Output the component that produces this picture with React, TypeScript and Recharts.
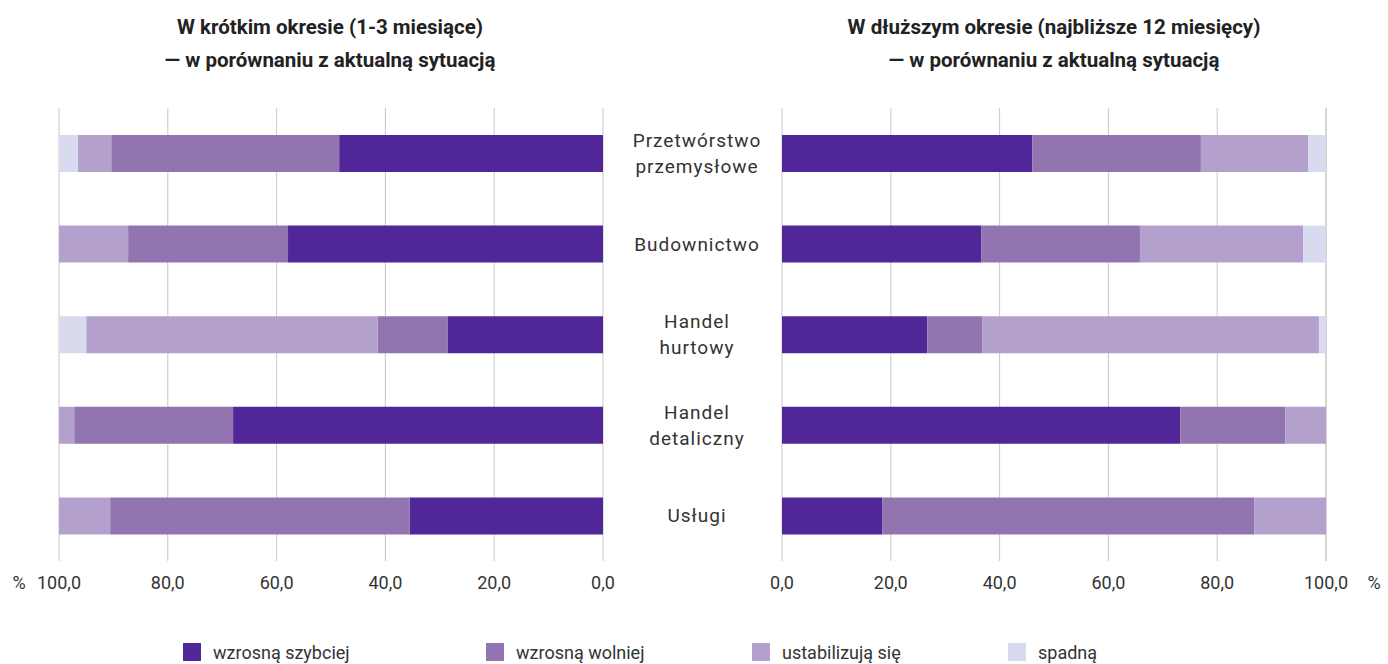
import React from 'react';
import { BarChart, Bar, XAxis, YAxis, CartesianGrid } from 'recharts';

const categories = ['Przetwórstwo\nprzemysłowe', 'Budownictwo', 'Handel\nhurtowy', 'Handel\ndetaliczny', 'Usługi'];

const shortFaster = [48.5, 57.9, 28.5, 68.0, 35.5];
const shortSlower = [41.9, 29.4, 12.9, 29.2, 55.1];
const shortStable = [6.1, 12.7, 53.6, 2.8, 9.4];
const shortFall = [3.5, 0, 5.0, 0, 0];

const longFaster = [46.0, 36.6, 26.7, 73.2, 18.4];
const longSlower = [31.0, 29.2, 10.1, 19.3, 68.4];
const longStable = [19.7, 30.0, 61.9, 7.5, 13.2];
const longFall = [3.3, 4.2, 1.3, 0, 0];

const seriesNames = ['wzrosną szybciej', 'wzrosną wolniej', 'ustabilizują się', 'spadną'];
const seriesColors = ['#512698', '#9275B0', '#B3A0CD', '#D8DAEE'];
const xTicks = [0, 20, 40, 60, 80, 100];

const leftTitle = ['W krótkim okresie (1-3 miesiące)', '— w porównaniu z aktualną sytuacją'];
const rightTitle = ['W dłuższym okresie (najbliższe 12 miesięcy)', '— w porównaniu z aktualną sytuacją'];

const shortData = categories.map((c, i) => ({ name: c, s0: shortFaster[i], s1: shortSlower[i], s2: shortStable[i], s3: shortFall[i] }));
const longData = categories.map((c, i) => ({ name: c, s0: longFaster[i], s1: longSlower[i], s2: longStable[i], s3: longFall[i] }));

const FONT = 'Roboto, "Noto Sans", sans-serif';
const fmt = (v: number) => v.toFixed(1).replace('.', ',');

const makeXTick = (side: 'left' | 'right') => (props: any) => {
  const { x, y, payload } = props;
  return (
    <g>
      <text x={x} y={y} dy="0.71em" textAnchor="middle" fontSize={18} fill="#333" fontFamily={FONT}>
        {fmt(payload.value)}
      </text>
      {payload.value === 100 && (
        <text x={x + (side === 'left' ? -40 : 48)} y={y} dy="0.71em" textAnchor="middle" fontSize={18} fill="#333" fontFamily={FONT}>
          %
        </text>
      )}
    </g>
  );
};

const CatTick = (props: any) => {
  const { x, y, payload } = props;
  const lines: string[] = String(payload.value).split('\n');
  const lh = 26;
  const start = -((lines.length - 1) * lh) / 2;
  return (
    <text x={x - 77} y={y} textAnchor="middle" fontSize={19} fill="#333" fontFamily={FONT} letterSpacing={1}>
      {lines.map((l, i) => (
        <tspan key={i} x={x - 77} y={y + start + i * lh} dy="0.35em">
          {l}
        </tspan>
      ))}
    </text>
  );
};

const renderBars = () =>
  ['s0', 's1', 's2', 's3'].map((k, i) => (
    <Bar key={k} dataKey={k} name={seriesNames[i]} stackId="a" fill={seriesColors[i]} isAnimationActive={false} barSize={37} />
  ));

const titleStyle: React.CSSProperties = {
  position: 'absolute',
  top: 11,
  width: 600,
  textAlign: 'center',
  fontFamily: FONT,
  fontWeight: 700,
  fontSize: 20.5,
  lineHeight: '33px',
  color: '#222',
};

const legendLefts = [183, 486, 752, 1008];

export default function App() {
  return (
    <div style={{ position: 'absolute', left: 0, top: 0, width: 1388, height: 664, background: '#fff', overflow: 'hidden' }}>
      <div style={{ ...titleStyle, left: 30 }}>
        {leftTitle.map((t, i) => (
          <div key={i}>{t}</div>
        ))}
      </div>
      <div style={{ ...titleStyle, left: 754 }}>
        {rightTitle.map((t, i) => (
          <div key={i}>{t}</div>
        ))}
      </div>

      <div style={{ position: 'absolute', left: 0, top: 0 }}>
        <BarChart width={620} height={610} layout="vertical" data={shortData} margin={{ top: 108, right: 17, left: 59, bottom: 9 }}>
          <CartesianGrid horizontal={false} stroke="#c8c8c8" />
          <XAxis
            type="number"
            domain={[0, 100]}
            ticks={xTicks}
            reversed
            axisLine={false}
            tickLine={false}
            tickSize={6}
            tickMargin={9}
            height={40}
            tick={makeXTick('left')}
            interval={0}
          />
          <YAxis type="category" dataKey="name" hide />
          {renderBars()}
        </BarChart>
      </div>

      <div style={{ position: 'absolute', left: 620, top: 0 }}>
        <BarChart width={768} height={610} layout="vertical" data={longData} margin={{ top: 108, right: 62, left: 0, bottom: 9 }}>
          <CartesianGrid horizontal={false} stroke="#c8c8c8" />
          <XAxis
            type="number"
            domain={[0, 100]}
            ticks={xTicks}
            axisLine={false}
            tickLine={false}
            tickSize={6}
            tickMargin={9}
            height={40}
            tick={makeXTick('right')}
            interval={0}
          />
          <YAxis type="category" dataKey="name" orientation="left" width={162} axisLine={false} tickLine={false} tick={CatTick} interval={0} />
          {renderBars()}
        </BarChart>
      </div>

      {seriesNames.map((n, i) => (
        <div
          key={n}
          style={{ position: 'absolute', left: legendLefts[i], top: 641, height: 22, display: 'flex', alignItems: 'center', fontFamily: FONT, fontSize: 18, color: '#333', whiteSpace: 'nowrap' }}
        >
          <span style={{ display: 'inline-block', width: 18, height: 18, background: seriesColors[i], marginRight: 12 }} />
          {n}
        </div>
      ))}
    </div>
  );
}
